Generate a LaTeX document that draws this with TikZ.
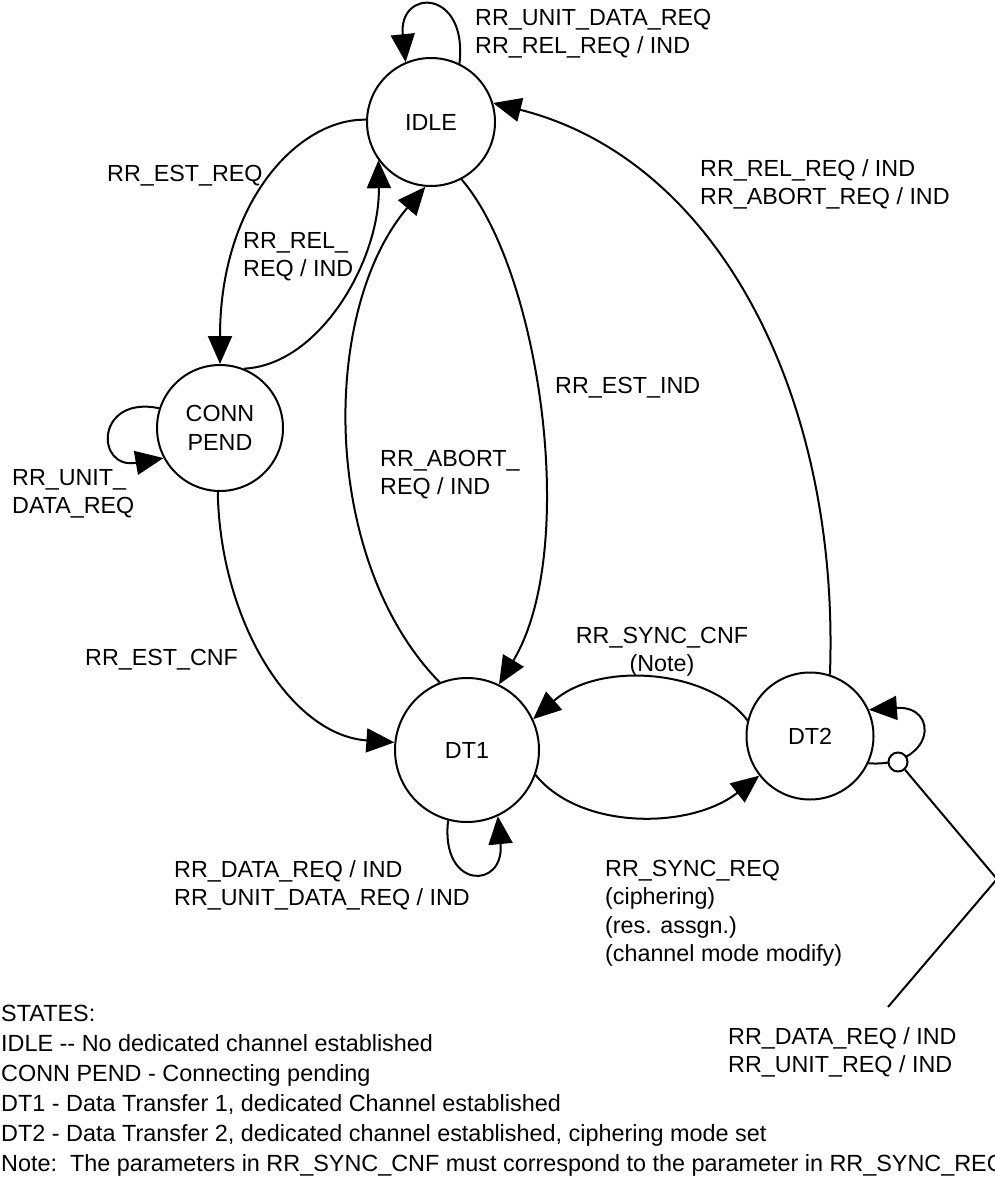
\documentclass[tikz,border=0pt]{standalone}
\usepackage{fontspec}
\setmainfont{Liberation Sans}
\usetikzlibrary{arrows.meta}
\begin{document}
\begin{tikzpicture}[x=1pt,y=-1pt,
  every node/.style={font=\fontsize{23.3}{28.5}\selectfont, inner sep=0pt},
  state/.style={circle, draw, line width=2pt, fill=white},
  edge/.style={line width=2pt, -{Triangle[length=28pt,width=24pt]}},
  plain/.style={line width=2pt},
  lbl/.style={anchor=north west, align=left},
]
\useasboundingbox (0,0) rectangle (995,1180);

% states
\node[state, minimum size=128] (idle) at (431,122) {IDLE};
\node[state, minimum size=126, align=center] (conn) at (220,428) {CONN\\PEND};
\node[state, minimum size=144] (dt1) at (467,750) {DT1};
\node[state, minimum size=127] (dt2) at (810,736) {DT2};

% transitions
\draw[edge] (idle.64) .. controls (468,-12) and (398,-12) .. (idle.113);
\draw[edge] (idle.178) .. controls (300,118) and (220,200) .. (conn.90);
\draw[edge] (conn.68) .. controls (320,365) and (380,260) .. (idle.216);
\draw[edge] (dt1.112) .. controls (320,560) and (320,310) .. (idle.265);
\draw[edge] (idle.298) .. controls (540,270) and (580,550) .. (dt1.64);
\draw[edge] (conn.268) .. controls (220,620) and (290,735) .. (dt1.174);
\draw[edge] (dt2.166) .. controls (710,670) and (600,660) .. (dt1.25);
\draw[edge] (dt1.340) .. controls (580,830) and (690,830) .. (dt2.218);
\draw[edge] (dt1.255) .. controls (440,890) and (505,890) .. (dt1.295);
\draw[edge] (conn.162) .. controls (95,395) and (95,470) .. (conn.208);
\draw[edge] (dt2.72) .. controls (840,400) and (720,160) .. (idle.17);
\draw[edge] (dt2.335) .. controls (935,768) and (940,705) .. (dt2.24);

% pointer from the DT2 self loop to its label
\node[circle, draw, line width=2pt, fill=white, minimum size=19] (tap) at (898,762) {};
\coordinate (bend) at (997,879);
\coordinate (tail) at (888,1007);
\draw[plain] (tap.-48) -- (bend) -- (tail);

% transition labels
\node[lbl] (l1) at (475,9) {RR\_UNIT\_DATA\_REQ\\RR\_REL\_REQ / IND};
\node[lbl] (l2) at (107,165) {RR\_EST\_REQ};
\node[lbl] (l3) at (243,232) {RR\_REL\_\\REQ / IND};
\node[lbl] (l4) at (700,159) {RR\_REL\_REQ / IND\\RR\_ABORT\_REQ / IND};
\node[lbl] (l5) at (555,377) {RR\_EST\_IND};
\node[lbl] (l6) at (12,469) {RR\_UNIT\_\\DATA\_REQ};
\node[lbl] (l7) at (380,450) {RR\_ABORT\_\\REQ / IND};
\node[lbl] (l8) at (85,649) {RR\_EST\_CNF};
\node[anchor=north, align=center] (l9) at (662,627) {RR\_SYNC\_CNF\\(Note)};
\node[lbl] (l10) at (174,860) {RR\_DATA\_REQ / IND\\RR\_UNIT\_DATA\_REQ / IND};
\node[lbl] (l11) at (605,860) {RR\_SYNC\_REQ\\(ciphering)\\(res. assgn.)\\(channel mode modify)};
\node[lbl] (l12) at (728,1027) {RR\_DATA\_REQ / IND\\RR\_UNIT\_REQ / IND};

% legend
\node[lbl, font=\fontsize{23.4}{30}\selectfont] (legend) at (1,1005) {STATES:\\
IDLE -{}- No dedicated channel established\\
CONN PEND - Connecting pending\\
DT1 - Data Transfer 1, dedicated Channel established\\
DT2 - Data Transfer 2, dedicated channel established, ciphering mode set\\
Note:~~The parameters in RR\_SYNC\_CNF must correspond to the parameter in RR\_SYNC\_REQ};
\end{tikzpicture}
\end{document}
